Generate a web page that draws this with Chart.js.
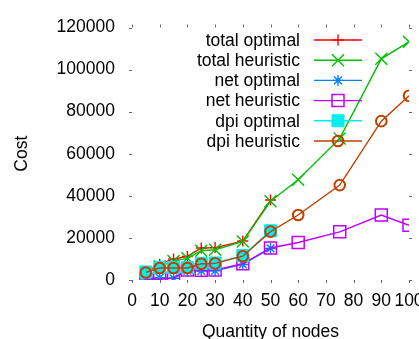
<!DOCTYPE html>
<html>
<head>
<meta charset="utf-8">
<script src="https://cdn.jsdelivr.net/npm/chart.js@4"></script>
<style>
  html, body { margin: 0; padding: 0; background: #fff; }
  canvas { display: block; }
</style>
</head>
<body>
<canvas id="chart" width="419" height="339"></canvas>
<script>
// -----------------------------
// Data
// -----------------------------
const nodes = [5, 10, 15, 20, 25, 30, 40, 50, 60, 75, 90, 100];
const optimalNodes = nodes.slice(0, 8); // optimal runs stop at 50 nodes

const totalOptimal   = [3800, 7500, 10000, 11200, 15200, 15400, 18500, 38000];
const totalHeuristic = [3800, 6500, 9000, 10300, 13900, 14400, 18300, 37400, 47600, 67300, 105100, 113200];
const netOptimal     = [400, 1100, 800, 4500, 4300, 4400, 7400, 15000];
const netHeuristic   = [200, 300, 900, 4800, 4600, 4800, 7700, 15200, 17800, 22900, 30900, 26000];
const dpiOptimal     = [3800, 6000, 5900, 5900, 7900, 8100, 11600, 23400];
const dpiHeuristic   = [3600, 5700, 5700, 5700, 7700, 7900, 11300, 23000, 30900, 45100, 75500, 87600];

const xTickStep = 10;
const yTickStep = 20000;

const FONT = { family: "'Liberation Sans', Arial, sans-serif", size: 17.5 };

function points(xs, ys) {
    return ys.map((v, i) => ({ x: xs[i], y: v }));
}

function series(label, xs, ys, color, style, radius, filled, order, pointWidth) {
    return {
        label: label,
        data: points(xs, ys),
        borderColor: color,
        backgroundColor: color,
        borderWidth: 1.4,
        pointStyle: style,
        pointRadius: radius,
        pointHoverRadius: radius,
        pointBorderColor: color,
        pointBackgroundColor: filled ? color : "rgba(0,0,0,0)",
        pointBorderWidth: pointWidth,
        fill: false,
        tension: 0,
        order: order
    };
}

// -----------------------------
// Plugins: outer tick marks + gnuplot style key
// -----------------------------
const tickMarks = {
    id: "tickMarks",
    afterDraw(chart) {
        const { ctx, chartArea: a, scales: { x, y } } = chart;
        ctx.save();
        ctx.strokeStyle = "#666";
        ctx.lineWidth = 1;
        ctx.beginPath();
        x.ticks.forEach(t => {
            const px = Math.round(x.getPixelForValue(t.value)) + 0.5;
            ctx.moveTo(px, a.bottom); ctx.lineTo(px, a.bottom + 3);
            ctx.moveTo(px, a.top); ctx.lineTo(px, a.top - 3);
        });
        y.ticks.forEach(t => {
            const py = Math.round(y.getPixelForValue(t.value)) + 0.5;
            ctx.moveTo(a.left, py); ctx.lineTo(a.left - 3, py);
            ctx.moveTo(a.right, py); ctx.lineTo(a.right + 3, py);
        });
        ctx.stroke();
        ctx.restore();
    }
};

const keyBox = {
    id: "keyBox",
    afterDatasetsDraw(chart) {
        const { ctx, chartArea: a } = chart;
        ctx.save();
        ctx.font = FONT.size + "px " + FONT.family;
        ctx.textAlign = "right";
        ctx.textBaseline = "middle";
        chart.data.datasets.forEach((ds, i) => {
            const yy = a.top + 12.5 + 20.2 * i;
            ctx.fillStyle = "#000";
            ctx.fillText(ds.label, a.right - 109, yy + 1);
            ctx.strokeStyle = ds.borderColor;
            ctx.lineWidth = ds.borderWidth;
            ctx.beginPath();
            ctx.moveTo(a.right - 95, yy);
            ctx.lineTo(a.right - 47, yy);
            ctx.stroke();
            ctx.fillStyle = ds.pointBackgroundColor;
            ctx.lineWidth = ds.pointBorderWidth;
            Chart.helpers.drawPoint(ctx, {
                pointStyle: ds.pointStyle,
                radius: ds.pointRadius,
                rotation: 0,
                borderWidth: ds.pointBorderWidth
            }, a.right - 71, yy);
        });
        ctx.restore();
    }
};

// -----------------------------
// Chart
// -----------------------------
new Chart(document.getElementById("chart"), {
    type: "line",
    data: {
        datasets: [
            series("total optimal",   optimalNodes, totalOptimal,   "#ff0000", "cross",    5.5, false, 6, 1.4),
            series("total heuristic", nodes,        totalHeuristic, "#00c000", "crossRot", 8.5, false, 5, 1.4),
            series("net optimal",     optimalNodes, netOptimal,     "#0080ff", "star",     5.5, false, 4, 1.4),
            series("net heuristic",   nodes,        netHeuristic,   "#c000ff", "rect",     8.5, false, 3, 1.5),
            series("dpi optimal",     optimalNodes, dpiOptimal,     "#00eeee", "rect",     8.5, true,  2, 1),
            series("dpi heuristic",   nodes,        dpiHeuristic,   "#c04000", "circle",   5.3, false, 1, 2)
        ]
    },
    options: {
        responsive: false,
        animation: false,
        events: [],
        layout: { padding: { top: 21, right: 10, left: 0, bottom: 0 } },
        plugins: {
            legend: { display: false },
            tooltip: { enabled: false }
        },
        scales: {
            x: {
                type: "linear",
                min: 0,
                max: 100,
                grid: { display: false, drawTicks: false },
                border: { display: false },
                ticks: {
                    stepSize: xTickStep,
                    padding: 11,
                    color: "#000",
                    font: FONT,
                    maxRotation: 0,
                    autoSkip: false
                },
                title: {
                    display: true,
                    text: "Quantity of nodes",
                    color: "#000",
                    font: FONT,
                    padding: { top: 0, bottom: -3.5 }
                },
                afterFit(scale) {
                    scale.height = 59;
                    scale.paddingRight = 0;
                    scale.paddingLeft = 0;
                }
            },
            y: {
                min: 0,
                max: 120000,
                grid: { display: false, drawTicks: false },
                border: { display: false },
                ticks: {
                    stepSize: yTickStep,
                    padding: 17,
                    color: "#000",
                    font: FONT,
                    callback: v => String(v)
                },
                title: {
                    display: true,
                    text: "Cost",
                    color: "#000",
                    font: FONT,
                    padding: { top: 11.5, bottom: 0 }
                },
                afterFit(scale) {
                    scale.width = 132;
                }
            }
        }
    },
    plugins: [tickMarks, keyBox]
});
</script>
</body>
</html>
